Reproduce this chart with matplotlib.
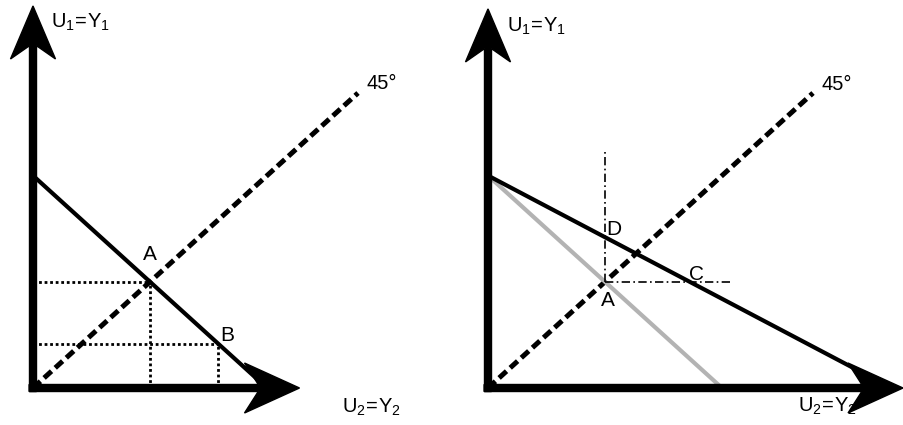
import matplotlib.pyplot as plt

plt.rcParams['font.family'] = ['Liberation Sans', 'DejaVu Sans']
plt.rcParams['mathtext.fontset'] = 'custom'
plt.rcParams['mathtext.rm'] = 'Liberation Sans'
plt.rcParams['mathtext.default'] = 'regular'

# diagram values (utility units, origin at 0,0)
diag_45 = [0, 10]                 # 45 degree line end
budget_left = [7.2, 7.2]          # x-intercept, y-intercept
point_a = [3.6, 3.6]
point_b = [5.7, 1.5]
budget_new_x = [0, 11.8]
budget_new_y = [7.2, 7.2 - 0.58 * 11.8]
point_c = [6.2, 3.6]
point_d = [3.6, 5.11]
dashdot_h_end = 7.5
dashdot_v_top = 8.0
axis_tip_left = [8.2, 12.95]
axis_tip_right = [12.77, 12.85]

px_x, px_y = 32.5, 29.5  # pixels per unit

fig = plt.figure(figsize=(9.04, 4.25), dpi=100)
ax1 = fig.add_axes([0, 0, 0.5, 1])
ax2 = fig.add_axes([0.5, 0, 0.5, 1])
ax1.set_xlim(-33 / px_x, 419 / px_x)
ax2.set_xlim(-36 / px_x, 416 / px_x)
for ax in (ax1, ax2):
    ax.set_ylim(-37 / px_y, 388 / px_y)
    ax.axis('off')


def axes_arrows(ax, tips):
    # vertical axis
    ax.arrow(0, -0.12, 0, tips[1] + 0.12, width=7 / px_x, head_width=45 / px_x,
             head_length=53 / px_y, overhang=0.25, length_includes_head=True,
             color='k', zorder=5)
    # horizontal axis
    ax.arrow(-0.12, 0, tips[0] + 0.12, 0, width=7 / px_y, head_width=50 / px_y,
             head_length=55 / px_x, overhang=0.25, length_includes_head=True,
             color='k', zorder=5)


dashed = dict(color='k', lw=3.6, linestyle=(0, (2, 1)))
dotted = dict(color='k', lw=2, linestyle=(0, (1, 1)))
dashdot = dict(color='k', lw=1.2, linestyle=(0, (5, 2, 1, 2)))

# ---- left panel
ax1.plot(diag_45, diag_45, **dashed)
ax1.plot([0, budget_left[0]], [budget_left[1], 0], color='k', lw=3)
ax1.plot([0, point_a[0]], [point_a[1], point_a[1]], **dotted)
ax1.plot([point_a[0], point_a[0]], [0, point_a[1]], **dotted)
ax1.plot([0, point_b[0]], [point_b[1], point_b[1]], **dotted)
ax1.plot([point_b[0], point_b[0]], [0, point_b[1]], **dotted)
axes_arrows(ax1, axis_tip_left)

ax1.text(0.55, 12.2, r'$U_1\!=\!Y_1$', fontsize=14.5)
ax1.text(10.25, 10.13, '45°', fontsize=14.5)
ax1.text(3.6, 4.34, 'A', fontsize=15, ha='center')
ax1.text(5.75, 1.6, 'B', fontsize=15)
ax1.text(9.5, -0.85, r'$U_2\!=\!Y_2$', fontsize=14.5)

# ---- right panel
ax2.plot(diag_45, diag_45, **dashed)
ax2.plot([0, budget_left[0]], [budget_left[1], 0], color='#b3b3b3', lw=3)
ax2.plot(budget_new_x, budget_new_y, color='k', lw=3)
ax2.plot([point_a[0], dashdot_h_end], [point_a[1], point_a[1]], **dashdot)
ax2.plot([point_a[0], point_a[0]], [point_a[1], dashdot_v_top], **dashdot)
axes_arrows(ax2, axis_tip_right)

ax2.text(0.58, 12.07, r'$U_1\!=\!Y_1$', fontsize=14.5)
ax2.text(10.25, 10.1, '45°', fontsize=14.5)
ax2.text(point_d[0] + 0.03, 5.19, 'D', fontsize=15)
ax2.text(point_c[0], 3.66, 'C', fontsize=15)
ax2.text(3.48, 2.78, 'A', fontsize=15)
ax2.text(9.54, -0.81, r'$U_2\!=\!Y_2$', fontsize=14.5)

plt.savefig('out.png', dpi=100)
